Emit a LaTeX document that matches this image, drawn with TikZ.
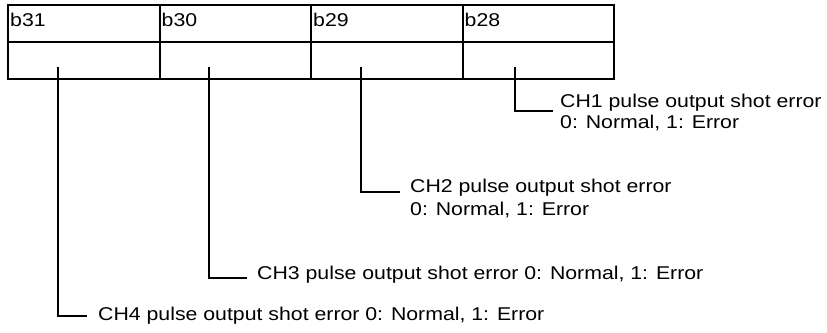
\documentclass[tikz,border=0pt]{standalone}
\usepackage{fontspec}
\setmainfont{Liberation Sans}[FakeStretch=1.15]
\begin{document}
\begin{tikzpicture}[x=1pt,y=-1pt,
  cell/.style={draw,line width=2pt,minimum width=151.5pt,minimum height=37pt,inner sep=0pt,outer sep=0pt,anchor=north west},
  hdr/.style={anchor=base west,inner sep=0pt,font=\fontsize{18.5}{20}\selectfont},
  lbl/.style={anchor=base west,inner sep=0pt,align=left,font=\fontsize{18.5}{21}\selectfont},
  conn/.style={line width=2pt}]
\useasboundingbox (0,0) rectangle (827,332);
% header row
\node[cell] (h31) at (8,5) {};
\node[cell] (h30) at (159.5,5) {};
\node[cell] (h29) at (311,5) {};
\node[cell] (h28) at (462.5,5) {};
% value row
\node[cell] (v31) at (8,42) {};
\node[cell] (v30) at (159.5,42) {};
\node[cell] (v29) at (311,42) {};
\node[cell] (v28) at (462.5,42) {};
% header labels
\node[hdr] (l31) at (10,27) {b31};
\node[hdr] (l30) at (161.5,27) {b30};
\node[hdr] (l29) at (313,27) {b29};
\node[hdr] (l28) at (464.5,27) {b28};
% descriptions (base west = baseline of the last line)
\node[lbl,font=\fontsize{18.5}{20.5}\selectfont] (t1) at (560,128) {CH1 pulse output shot error\\0: Normal, 1: Error};
\node[lbl,font=\fontsize{18.5}{23.5}\selectfont] (t2) at (410,215.5) {CH2 pulse output shot error\\0: Normal, 1: Error};
\node[lbl] (t3) at (257,279) {CH3 pulse output shot error 0: Normal, 1: Error};
\node[lbl] (t4) at (98,320) {CH4 pulse output shot error 0: Normal, 1: Error};
% connector points
\coordinate (s1) at (515,67);
\coordinate (s2) at (361,67);
\coordinate (s3) at (209,67);
\coordinate (s4) at (58,67);
\coordinate (e1) at (553,111);
\coordinate (e2) at (400,192);
\coordinate (e3) at (247,278);
\coordinate (e4) at (87,316);
\draw[conn] (s1) |- (e1);
\draw[conn] (s2) |- (e2);
\draw[conn] (s3) |- (e3);
\draw[conn] (s4) |- (e4);
\end{tikzpicture}
\end{document}
